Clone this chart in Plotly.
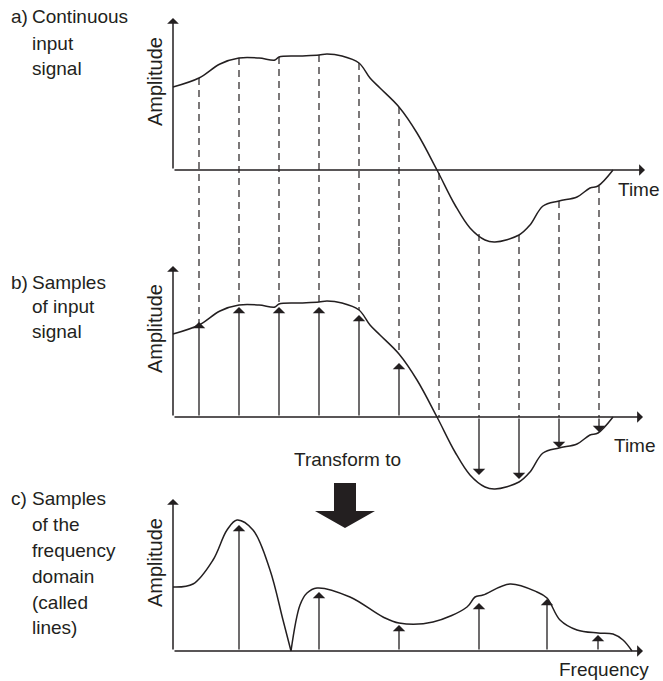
import plotly.graph_objects as go

W, H = 663, 681
INK = "#231f20"
FONT = "Liberation Sans, Arial, Helvetica, sans-serif"

# ---------------- data ----------------
# continuous input signal (time units, amplitude units)
SIGNAL_T = [0.0, 0.65, 1.175, 1.65, 2.15, 2.55, 2.65, 3.175, 3.65, 3.85, 4.225, 4.65,
            4.925, 5.175, 5.65, 6.1, 6.6, 7.05, 7.425, 7.8, 8.05, 8.65, 8.925, 9.25,
            9.65, 10.1, 10.425, 10.625, 11.0]
SIGNAL_V = [8.3, 9.2, 10.6, 11.2, 11.2, 11.0, 11.3, 11.4, 11.5, 11.6, 11.4, 10.7,
            9.2, 8.2, 6.3, 3.7, 0.0, -3.5, -5.8, -7.0, -7.2, -6.5, -5.5, -3.6,
            -3.1, -2.7, -1.8, -1.6, 0.0]

# sampling instants, signal at those instants, and drawn stem heights
SAMPLE_T = [0.65, 1.65, 2.65, 3.65, 4.65, 5.65, 6.65, 7.65, 8.65, 9.65, 10.65]
SAMPLE_V = [9.2, 11.2, 11.3, 11.5, 10.7, 6.3, -0.3, -6.4, -6.5, -3.1, -1.6]
STEM_V = [9.5, 11.0, 11.0, 11.0, 10.2, 5.4, 0.0, -5.8, -6.2, -3.1, -1.5]

# frequency-domain envelope (split at the null)
SPEC_F_LOW = [0.0, 0.5, 1.0, 1.35, 1.6, 2.0, 2.425, 2.75, 2.95]
SPEC_V_LOW = [6.4, 6.7, 9.1, 12.1, 13.1, 12.1, 8.1, 3.1, 0.0]
SPEC_F_HIGH = [2.95, 3.175, 3.35, 3.6, 4.425, 5.25, 5.65, 6.5, 7.35, 7.55, 7.75, 8.425,
               9.1, 9.35, 9.675, 10.1, 10.625, 11.0, 11.25, 11.475]
SPEC_V_HIGH = [0.0, 4.6, 5.8, 6.3, 5.4, 3.4, 2.8, 2.9, 4.4, 5.4, 5.6, 6.7,
               5.9, 5.3, 3.1, 2.1, 1.8, 1.7, 1.1, 0.0]

# spectral lines
LINE_F = [1.65, 3.65, 5.65, 7.65, 9.35, 10.625]
LINE_V = [12.6, 5.9, 2.6, 4.8, 5.2, 1.6]

# axis extents (top of amplitude arrow, end of horizontal arrow) per panel
AMP_TOP = [15.2, 15.1, 15.2]
HORIZ_END = [11.8, 11.75, 11.75]

# ---------------- layout helpers ----------------
X_RANGE = [-173 / 40, (W - 173) / 40]
Y_RANGE_AB = [-7.7, 17.0]
Y_RANGE_C = [-3.0, 15.7]
DOM_A = [1 - 247 / H, 1.0]
DOM_B = [1 - 494 / H, 1 - 247 / H]
DOM_C = [0.0, 1 - 494 / H]


def px(x, y):
    return x / W, 1 - y / H


fig = go.Figure()

curve_line = dict(color=INK, width=1.5, shape="spline", smoothing=1.0)
fig.add_trace(go.Scatter(x=SIGNAL_T, y=SIGNAL_V, mode="lines", line=curve_line,
                         xaxis="x", yaxis="y", hoverinfo="skip"))
fig.add_trace(go.Scatter(x=SIGNAL_T, y=SIGNAL_V, mode="lines", line=curve_line,
                         xaxis="x2", yaxis="y2", hoverinfo="skip"))
fig.add_trace(go.Scatter(x=SPEC_F_LOW, y=SPEC_V_LOW, mode="lines", line=curve_line,
                         xaxis="x3", yaxis="y3", hoverinfo="skip"))
fig.add_trace(go.Scatter(x=SPEC_F_HIGH, y=SPEC_V_HIGH, mode="lines", line=curve_line,
                         xaxis="x3", yaxis="y3", hoverinfo="skip"))

shapes = []
annotations = []

# dashed projection lines from panel a down into panel b
dash_line = dict(color=INK, width=1.2, dash="7px,5px")
for t, v in zip(SAMPLE_T, SAMPLE_V):
    shapes.append(dict(type="line", xref="x", yref="y", x0=t, x1=t,
                       y0=v, y1=Y_RANGE_AB[0], line=dash_line))
    shapes.append(dict(type="line", xref="x2", yref="y2", x0=t, x1=t,
                       y0=Y_RANGE_AB[1], y1=max(v, 0.0), line=dash_line))


def arrow(xa, ya, x0, y0, x1, y1, width=1.3, size=1.6):
    return dict(x=x1, y=y1, ax=x0, ay=y0, xref=xa, yref=ya, axref=xa, ayref=ya,
                text="", showarrow=True, arrowhead=1, arrowsize=size,
                arrowwidth=width, arrowcolor=INK, standoff=0, startstandoff=0)


# sample stems in panel b
for t, v in zip(SAMPLE_T, STEM_V):
    if abs(v) > 0.5:
        annotations.append(arrow("x2", "y2", t, 0, t, v))

# spectral lines in panel c
for f, v in zip(LINE_F, LINE_V):
    annotations.append(arrow("x3", "y3", f, 0, f, v))

# axes drawn as arrows
for i, (xa, ya) in enumerate([("x", "y"), ("x2", "y2"), ("x3", "y3")]):
    annotations.append(arrow(xa, ya, 0, 0, 0, AMP_TOP[i], width=1.5, size=1.3))
    annotations.append(arrow(xa, ya, 0, 0, HORIZ_END[i], 0, width=1.5, size=1.3))

# big "transform" arrow
pts = [(334, 483), (356, 483), (356, 511), (375, 511), (345, 528), (315, 511), (334, 511)]
path = "M " + " L ".join("%.5f,%.5f" % px(x, y) for x, y in pts) + " Z"
shapes.append(dict(type="path", xref="paper", yref="paper", path=path,
                   fillcolor=INK, line=dict(color=INK, width=0)))


def label(text, x, y, xanchor="left", size=19, angle=0):
    xp, yp = px(x, y)
    annotations.append(dict(text=text, x=xp, y=yp, xref="paper", yref="paper",
                            xanchor=xanchor, yanchor="middle", showarrow=False,
                            textangle=angle, font=dict(family=FONT, size=size, color=INK)))


# left-hand descriptions
label("a)", 9, 17)
label("Continuous", 30, 17)
label("input", 30, 43)
label("signal", 30, 68)

label("b)", 9, 282)
label("Samples", 30, 282)
label("of input", 30, 307)
label("signal", 30, 331)

label("c)", 9, 498)
label("Samples", 30, 498)
label("of the", 30, 524)
label("frequency", 30, 550)
label("domain", 30, 576)
label("(called", 30, 602)
label("lines)", 30, 627)

# axis titles
label("Amplitude", 155, 82, xanchor="center", size=20, angle=-90)
label("Amplitude", 155, 329, xanchor="center", size=20, angle=-90)
label("Amplitude", 155, 563, xanchor="center", size=20, angle=-90)
label("Time", 616, 190)
label("Time", 612, 445)
label("Frequency", 651, 669, xanchor="right")
label("Transform to", 347, 459, xanchor="center")

hidden = dict(visible=False, showgrid=False, zeroline=False, fixedrange=True)
fig.update_layout(
    width=W, height=H,
    margin=dict(l=0, r=0, t=0, b=0),
    paper_bgcolor="white", plot_bgcolor="white",
    showlegend=False,
    xaxis=dict(hidden, range=X_RANGE, domain=[0, 1], anchor="y"),
    yaxis=dict(hidden, range=Y_RANGE_AB, domain=DOM_A, anchor="x"),
    xaxis2=dict(hidden, range=X_RANGE, domain=[0, 1], anchor="y2"),
    yaxis2=dict(hidden, range=Y_RANGE_AB, domain=DOM_B, anchor="x2"),
    xaxis3=dict(hidden, range=X_RANGE, domain=[0, 1], anchor="y3"),
    yaxis3=dict(hidden, range=Y_RANGE_C, domain=DOM_C, anchor="x3"),
    shapes=shapes,
    annotations=annotations,
)

fig.write_html(
    "out.html",
    config={"displayModeBar": False},
    post_script="document.body.style.margin='0px';document.body.style.overflow='hidden';",
)
